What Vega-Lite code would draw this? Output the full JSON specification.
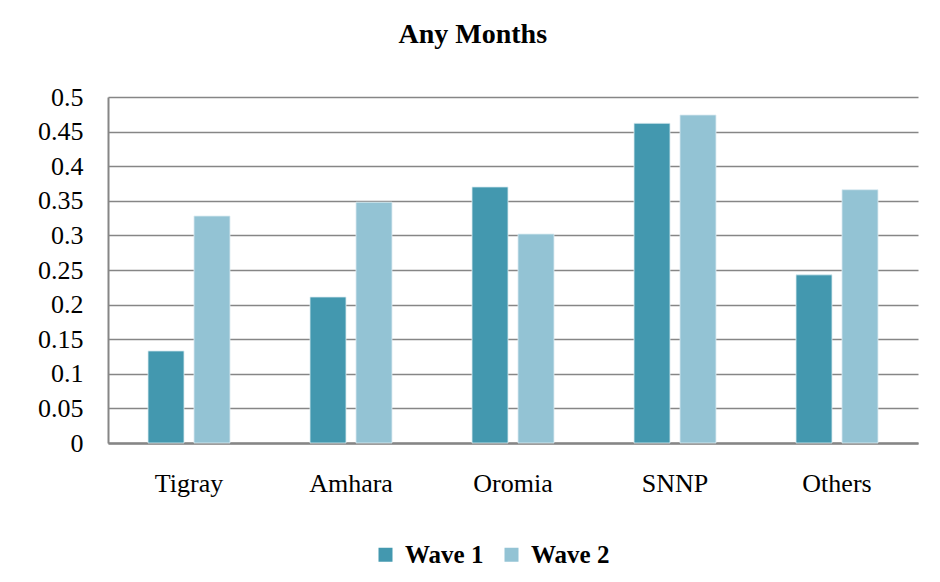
{
  "$schema": "https://vega.github.io/schema/vega-lite/v6.json",
  "width": 810,
  "height": 346,
  "autosize": {"type": "none"},
  "padding": {"left": 108, "top": 97, "right": 22, "bottom": 139},
  "background": "white",
  "title": {
    "text": "Any Months",
    "font": "Liberation Serif",
    "fontSize": 28,
    "fontWeight": "bold",
    "color": "black",
    "anchor": "middle",
    "frame": "bounds",
    "baseline": "alphabetic",
    "offset": 13,
    "dx": -5
  },
  "data": {
    "values": [
      {"region": "Tigray", "wave": "Wave 1", "value": 0.133},
      {"region": "Tigray", "wave": "Wave 2", "value": 0.328},
      {"region": "Amhara", "wave": "Wave 1", "value": 0.211},
      {"region": "Amhara", "wave": "Wave 2", "value": 0.348},
      {"region": "Oromia", "wave": "Wave 1", "value": 0.370},
      {"region": "Oromia", "wave": "Wave 2", "value": 0.302},
      {"region": "SNNP", "wave": "Wave 1", "value": 0.462},
      {"region": "SNNP", "wave": "Wave 2", "value": 0.474},
      {"region": "Others", "wave": "Wave 1", "value": 0.243},
      {"region": "Others", "wave": "Wave 2", "value": 0.366}
    ]
  },
  "mark": {"type": "bar", "stroke": "#dcecf1", "strokeWidth": 0.8},
  "encoding": {
    "x": {
      "field": "region",
      "type": "nominal",
      "sort": ["Tigray", "Amhara", "Oromia", "SNNP", "Others"],
      "scale": {"paddingInner": 0.494, "paddingOuter": 0.247},
      "axis": {
        "title": null,
        "labelAngle": 0,
        "labelFont": "Liberation Serif",
        "labelFontSize": 26,
        "labelColor": "black",
        "labelPadding": 27,
        "ticks": false,
        "tickSize": 0,
        "domainColor": "#868686",
        "domainWidth": 2.5,
        "grid": false
      }
    },
    "xOffset": {
      "field": "wave",
      "type": "nominal",
      "scale": {"paddingInner": 0.217, "paddingOuter": 0}
    },
    "y": {
      "field": "value",
      "type": "quantitative",
      "scale": {"domain": [0, 0.5], "nice": false},
      "axis": {
        "title": null,
        "values": [0, 0.05, 0.1, 0.15, 0.2, 0.25, 0.3, 0.35, 0.4, 0.45, 0.5],
        "format": "~g",
        "labelFont": "Liberation Serif",
        "labelFontSize": 26,
        "labelColor": "black",
        "labelPadding": 25,
        "ticks": false,
        "tickSize": 0,
        "domainColor": "#868686",
        "domainWidth": 2,
        "gridColor": "#868686",
        "gridWidth": 1.6
      }
    },
    "color": {
      "field": "wave",
      "type": "nominal",
      "scale": {"domain": ["Wave 1", "Wave 2"], "range": ["#4398AF", "#93C3D4"]},
      "legend": {
        "title": null,
        "orient": "none",
        "direction": "horizontal",
        "legendX": 265,
        "legendY": 445,
        "padding": 0,
        "symbolType": "square",
        "symbolSize": 196,
        "symbolStrokeWidth": 0,
        "labelFont": "Liberation Serif",
        "labelFontSize": 25,
        "labelFontWeight": "bold",
        "labelColor": "black",
        "labelOffset": 7,
        "columnPadding": 15
      }
    }
  },
  "config": {"view": {"stroke": null}}
}
